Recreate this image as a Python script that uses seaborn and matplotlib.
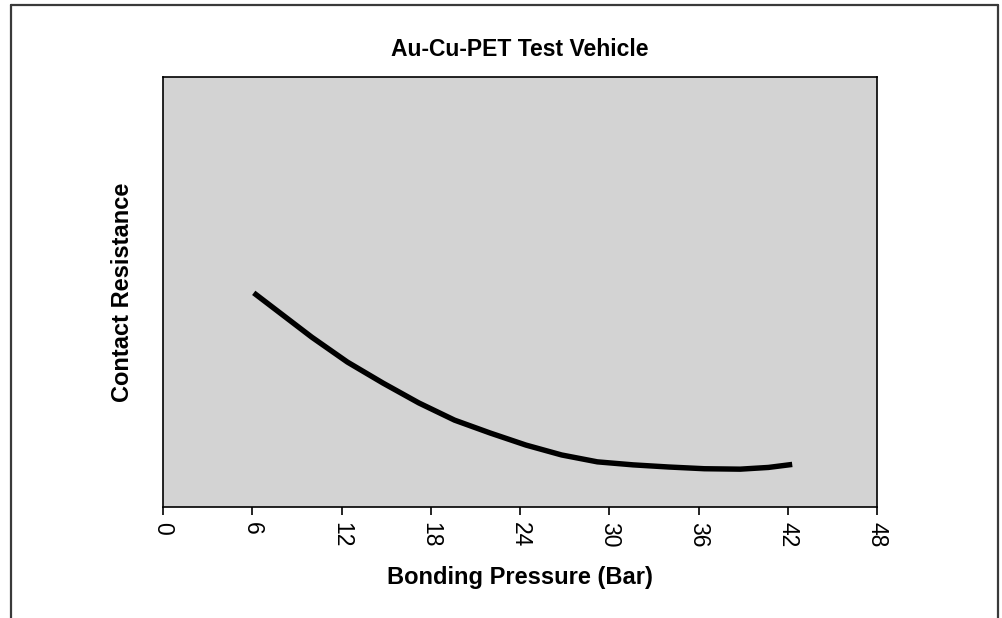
import matplotlib
matplotlib.use("Agg")
import matplotlib.pyplot as plt
import seaborn as sns
import pandas as pd
from matplotlib.lines import Line2D

# Data (relative contact resistance, arbitrary units)
pressure = [6.1, 10.0, 12.4, 14.8, 17.2, 19.6, 22.0, 24.4, 26.8, 29.2,
            31.6, 34.0, 36.4, 38.8, 40.7, 42.3]
resistance = [49.8, 39.5, 33.7, 28.8, 24.2, 20.2, 17.2, 14.4, 12.1, 10.5,
              9.8, 9.3, 8.9, 8.8, 9.2, 9.9]
xticks = [0, 6, 12, 18, 24, 30, 36, 42, 48]

title = "Au-Cu-PET Test Vehicle"
xlabel = "Bonding Pressure (Bar)"
ylabel = "Contact Resistance"

sns.set_style("white")
plt.rcParams["font.family"] = ["Liberation Sans", "DejaVu Sans"]
plt.rcParams["text.color"] = "black"
plt.rcParams["axes.labelcolor"] = "black"
plt.rcParams["xtick.color"] = "black"

df = pd.DataFrame({"pressure": pressure, "resistance": resistance})

fig = plt.figure(figsize=(10.03, 6.18), dpi=100)
ax = fig.add_axes([163 / 1003, 111 / 618, 714 / 1003, 430 / 618])
ax.set_facecolor("#d3d3d3")

sns.lineplot(data=df, x="pressure", y="resistance", ax=ax, color="black",
             linewidth=3.9, solid_capstyle="butt", solid_joinstyle="round")

ax.set_xlim(0, 48)
ax.set_ylim(0, 100)
ax.set_xticks(xticks)
ax.set_xticklabels([str(t) for t in xticks], rotation=270, fontsize=16.5)
ax.set_yticks([])
ax.tick_params(axis="x", direction="out", length=6, width=1.2, color="black",
               bottom=True, pad=5)

for s in ax.spines.values():
    s.set_color("black")
    s.set_linewidth(1.2)

ax.set_title(title, fontsize=16.5, fontweight="bold", pad=15, color="black")
ax.set_xlabel(xlabel, fontsize=17, fontweight="bold", labelpad=13, color="black")
ax.set_ylabel(ylabel, fontsize=17, fontweight="bold", labelpad=21, color="black")

# outer frame (open at the bottom)
col = "#3a3a3a"
lw = 1.6
xl, xr, yt = 11 / 1003, 998 / 1003, 1 - 5 / 618
fig.add_artist(Line2D([xl, xr], [yt, yt], color=col, lw=lw, transform=fig.transFigure))
fig.add_artist(Line2D([xl, xl], [0, yt], color=col, lw=lw, transform=fig.transFigure))
fig.add_artist(Line2D([xr, xr], [0, yt], color=col, lw=lw, transform=fig.transFigure))

fig.savefig("out.png", dpi=100, facecolor="white")
